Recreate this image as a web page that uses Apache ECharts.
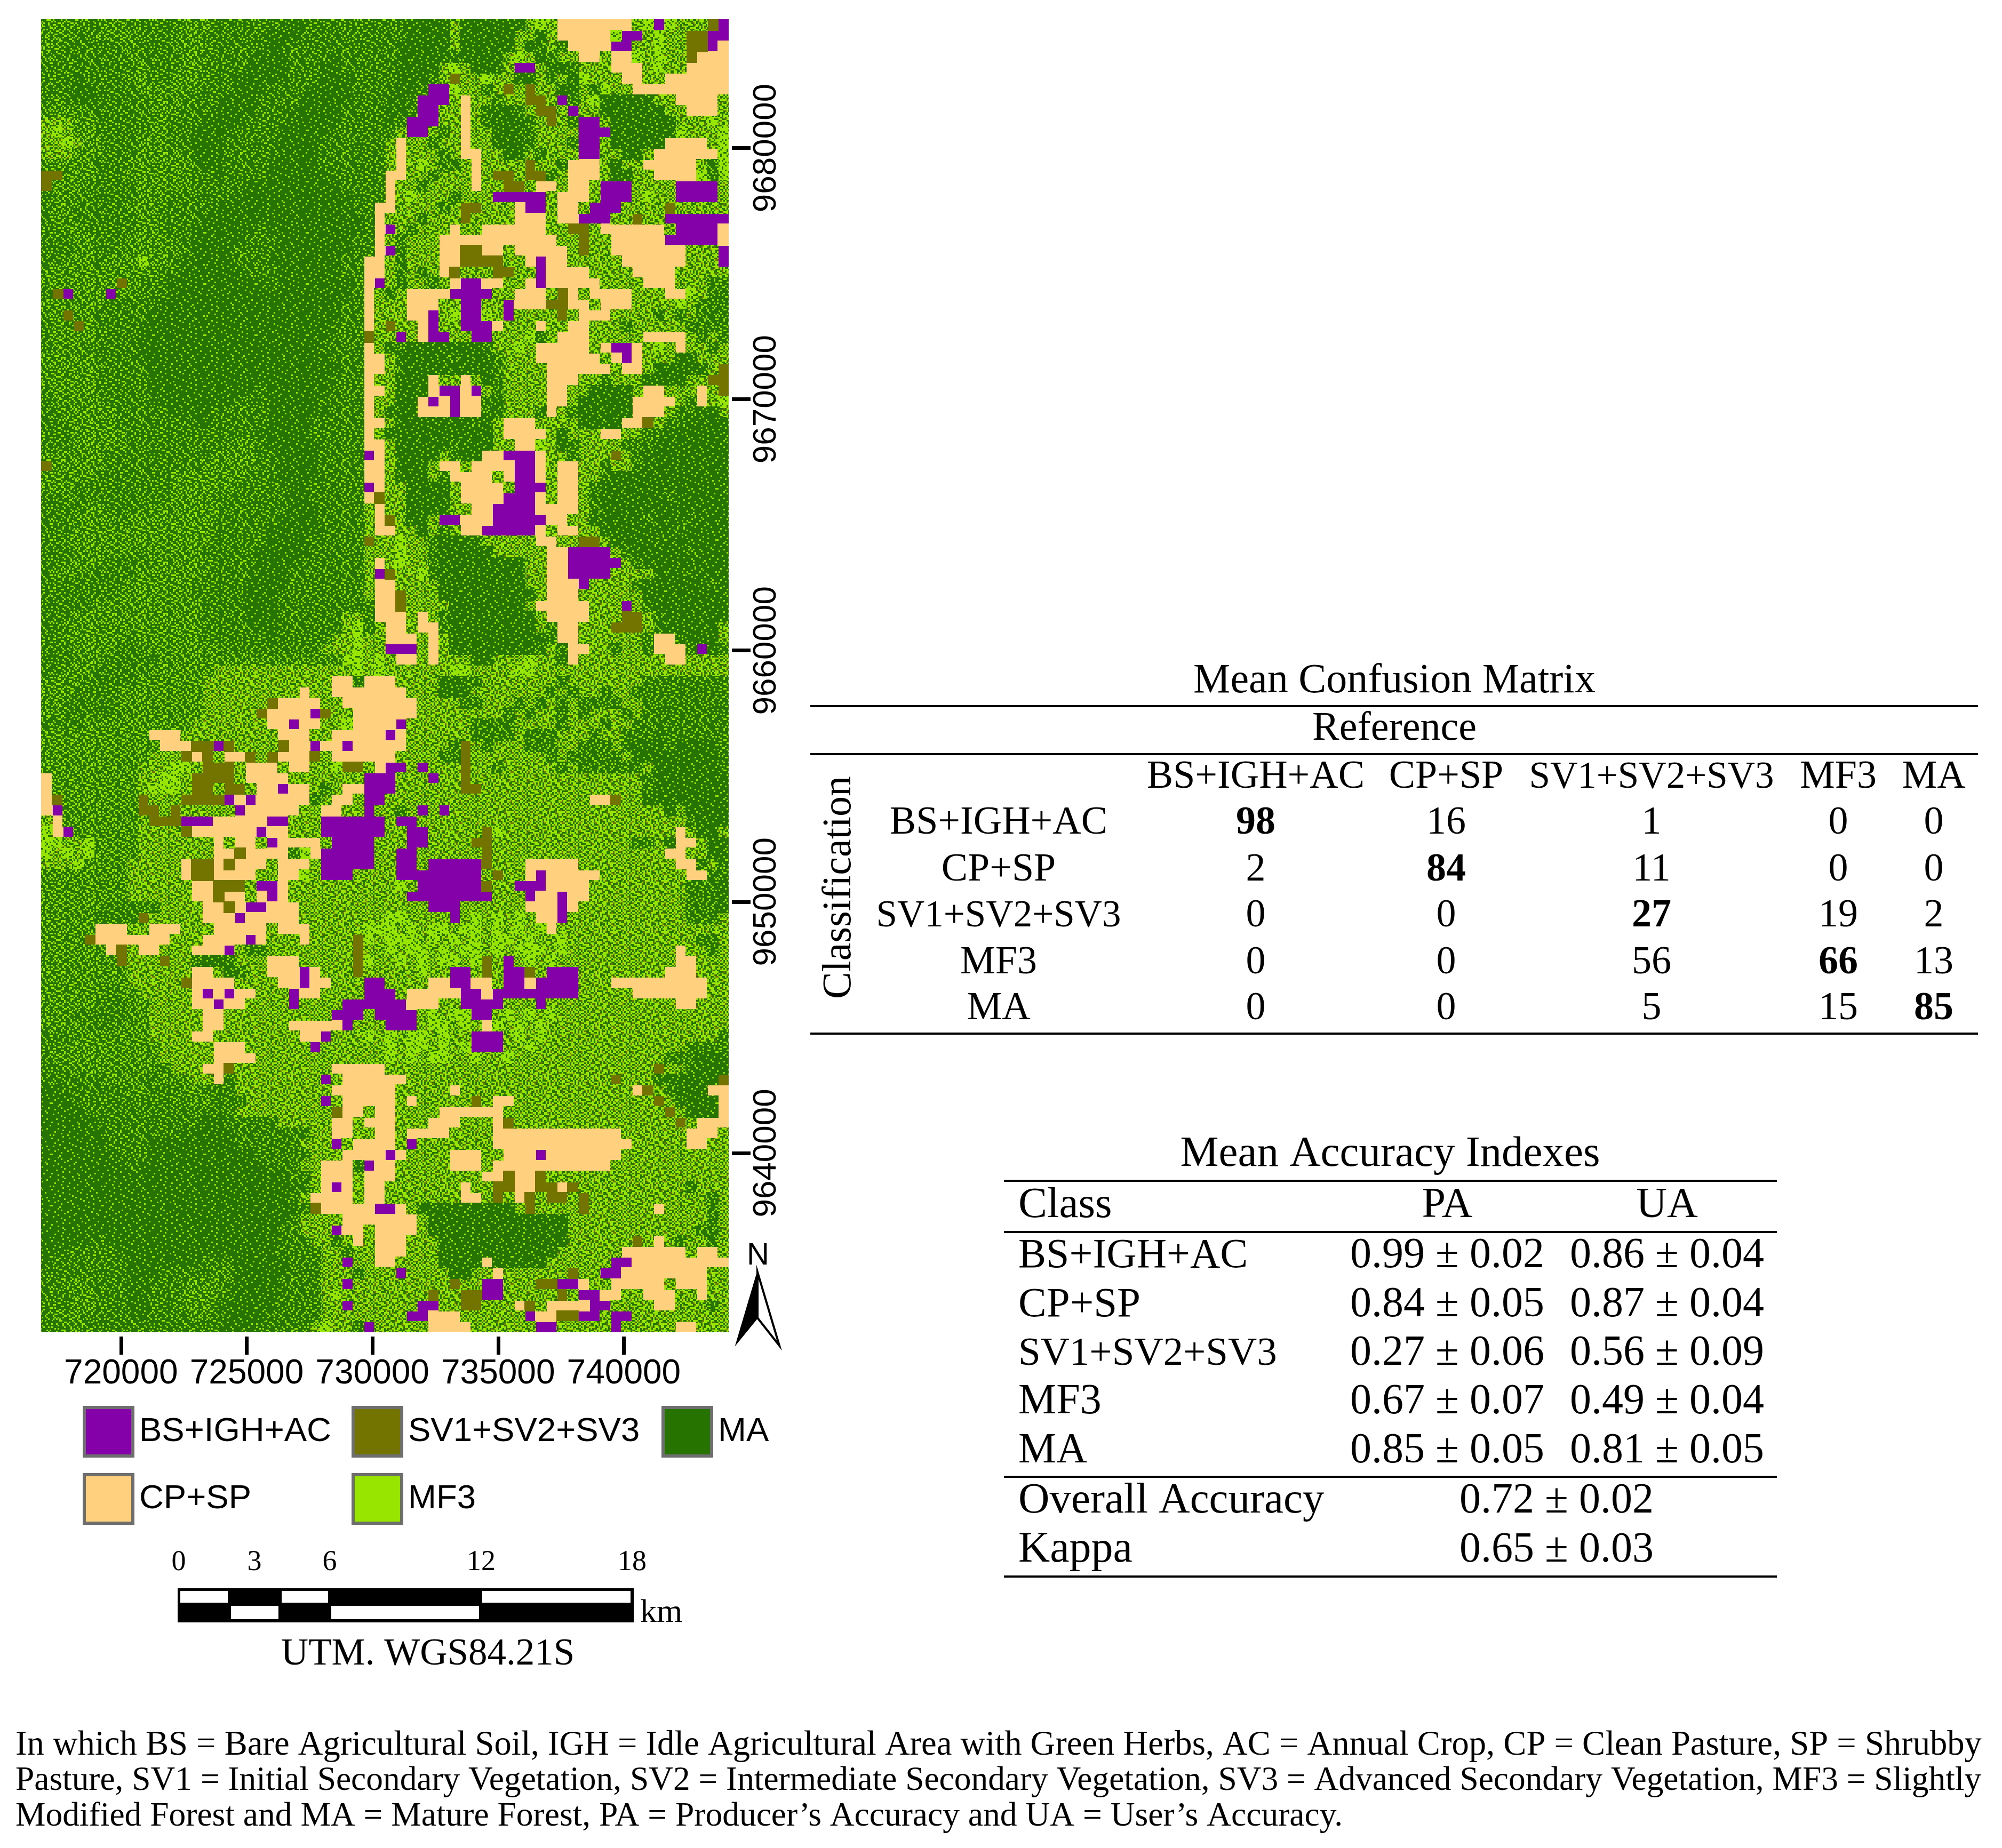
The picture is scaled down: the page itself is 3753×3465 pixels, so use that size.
<!DOCTYPE html>
<html>
<head>
<meta charset="utf-8">
<title>Land cover classification map and accuracy tables</title>
<style>
  html, body { margin: 0; background: #fff; }
  #chart { width: 3753px; height: 3465px; }
</style>
<script src="https://cdn.jsdelivr.net/npm/echarts@6/dist/echarts.min.js"></script>
</head>
<body>
<div id="chart"></div>
<script>
// Classes of the map legend
const classNames = ["BS+IGH+AC", "CP+SP", "SV1+SV2+SV3", "MF3", "MA"];
const classColors = ["#8400a8", "#ffd17f", "#737300", "#98e600", "#267300"];
// Letter used in the raster rows -> index of the class
// d/./m are forest with few/some/more MF3 pixels, , and l are MF3 with more/most of them
const cellClass = { b: 0, c: 1, s: 2, ",": 3, l: 3, d: 4, ".": 4, m: 4 };

const xTickValues = [720000, 725000, 730000, 735000, 740000];
const yTickValues = [9640000, 9650000, 9660000, 9670000, 9680000];

// Map on a coarse grid, top row first.
// West part: columns 0-29, east part: columns 30-63.
const rasterWest = [
  "mmmm..mm.....mmm.......dd.....",
  "mmm..mmmm....mm......ddd......",
  "mm.....mm...mmmm.....dd.......",
  "m.......m....mm.....ddd....d..",
  "..m......m...mm....dddd...dd..",
  "...d....mm..mmm...ddddd...ddd.",
  "...dd....mmmmm....ddd....dddd.",
  ".m.dd.....mmm....ddd....ddddd.",
  "mmmm......mmm...dddd...ddddd..",
  ",,,mm.....mm...dddd....ddddd..",
  // 10
  ",l,mm.....mm..dddd....ddddd...",
  ",,l,mm...mmm..ddd.....dddd....",
  ",,,mmm...mmmm.ddd.....dddd....",
  "mmmmm...mmmmmm.dd....ddddd....",
  "ssmmm...mmmmmm..d....dddddd...",
  "smmm.....mmmmm.....ddddddddd..",
  ".mmm.....mmm......ddddddddddd.",
  ".mm.....mmm.....ddddddddddddd.",
  ".mm......mm....ddddddddddddddd",
  "..mm.....mm...dddddd.ddddddddd",
  // 20
  "...mm...mmmm..ddddd...ddddddd.",
  "...mm..mmmmmm.dddd....ddddddd.",
  "..mmm.mmmlmm.ddddd...ddddddd..",
  "mmmmmmmmmmm..dddddd...dddddd..",
  "mmmmmmmsm...ddddddddd.ddddddd.",
  ".sbmmmbmm...ddddddddddddddddd.",
  "mmmmmm.....ddddddddddddddddd..",
  "mmsmm.....dddddddddddddddddd..",
  ".mmsm....dddddddddddddddddd...",
  ".mmmm....dddddddddddddddddd...",
  // 30
  ".mmm.....ddddddddddddddddd....",
  "mmmmm....dddddddddddddddddd...",
  "mmmmmm....dddddddddddddddddd..",
  "mmmmm.....ddddddddddddddddd...",
  ".mmmm.....dddddddddd.dddddd...",
  ".mmmmm.....ddddddd...ddddd....",
  "..mmmmm.....dddd.....dddddd...",
  "..mmmmm.......dd.....dddd.....",
  "...mmmmm............ddddd.....",
  "...mmmmm..........mm.ddddd....",
  // 40
  "mmmmmm..........mmmm..dddd....",
  "smmmmm.........mmmmm..dddd....",
  "mmmmm.......mmmmmmm...dddd....",
  "mmm.........mmmmmm.....dd.....",
  "..m.........mmmm.......dd.....",
  "....mm....mmmmmmm......ddd....",
  "...mmmm.mmmmmmmm......dddd....",
  "...mmmmmmmmmmmmm.....ddddd....",
  "..mmmmmmmmmmmmmm.....dddd.....",
  "...mmmmmm.mmmmm.....ddddd.....",
  // 50
  "..mmmm....mmmmmm....dddd......",
  ".mmm.....mmmmmm.....ddd.......",
  "........mmmmmm.....dddd.......",
  ".......mmmmmmm.....ddd........",
  ".....mmmmmmmmmm....ddd........",
  "...mmmmmmmmmmmm....ddd......,,",
  "..mmmmmmmmmmmmm.....dd......,l",
  "..mmmmmm.mmmmmm......d.....,,l",
  "...mmmm...mmmmmmm.........,,,l",
  "...mmm.....mmmmmmmmmmmmmmmmmll",
  // 60
  "..mmm.....mmmmmm,,,,,,,,,,,,,l",
  "mmmm.....mmmmmm,,,,,,,,,,,,cc.",
  "mmm....mmmmmmmm,,,,,,,,,c,,ccc",
  "mm.....mmmmmmmm,,,,,,scccc,,cc",
  "mm.....mmmmmmmm,,,,,sccccbs,,c",
  "....mmmmmmmmmm,,,,,,,ccbcc,,lc",
  "mmmmmmmmmmccc,,,,,,,,,ccc,,ccc",
  "mmmmmmmmmmmcccssbs,,,,sccbccbc",
  "mmmmmmmmmm,,,scs,ccs,scccs,ccc",
  "mmmmmmmmm,,,ll,sss,ccc,cc,,lss",
  // 70
  "cmmmmmmmm,,ll,ssss,cccc,,,,,,,",
  "cmmmmmmmm,lll,ss,ss,ccbcc,.,cc",
  "csmmmmmmms,,,ssssbcbccccc.,cc,",
  "cbmmmmmmmss,s,,,,,bccccc,,cc,,",
  ",cmmmmmmm,sssbbbcccccbb,,,bbbb",
  "lcbmmmmmm,,,,sccccccbcc,,,bbbb",
  "ll,,lmmmm,,,,,,,c,cc,bcccc,bbb",
  "l,l,lmmmm,,,,,,,ccscccc.lcbbbb",
  ",,,lmmmm,,,,,csscsccc,ccc,bbbb",
  "mmmmmmmm,,,,,csscccc,,ccl,bbb,",
  // 80
  "mmmmmmmm,,,,,,ccsss,bbc,,,,,,,",
  "mmmmmmmm,,,,,,ccscc,cbc,,,,,,,",
  "mmmmmm.....,,,,ccscbbccc,,,,,,",
  "mmmmm....s,,,,,cccbccccc,,,,,,",
  "mmmmmccc,,ccc,,,ccccc,ccc,,,,,",
  "mmmmsccccccc,,,ccccbc,,,c,,,,s",
  "mmmmmmcs,cc,,,cccb,..,,,,,,,,s",
  "mmmmmmms,,,s,,.dd.,,,ccc,,,,,s",
  "mmmmmmmm,,,,,,cc,d.,,cccbc,,,s",
  "mmmmmmmm,,,,,scccc,,,,ccbcc,,,",
  // 90
  "mmmmmm.mm,,,,,cbcbcc,,,bcc,,,,",
  "mmmmm...mm,,,,ccbcc,,,,b,,,,bb",
  "mmm.....mm,,,,,cc,,,,,,,,,,bbb",
  "mmmm...mmm,,,,,cc,,,,,,cccccb,",
  "...mmmmmmm,,,,cc,,,,,,,,ccb,,,",
  "..mmmmmmmmm,,,,,ccc,,,,,,b,,,,",
  ".mmmmmmmmmm,,,,,cccc,,,,,,,,,,",
  "..mmmmmmmmm.,,,ccs,,,,,,,,,ccc",
  "......mmm..mmm,,c.,,,,,,,,b,cc",
  "dd......mm...mm...,,,,,,,,,ccc",
  // 100
  "ddd.........m.mm...,,,,,,,b,cc",
  "dddd..............,,,,,,,,,scc",
  "ddddd..........dd.....,,,,,cc,",
  "dddddd.......ddddd.......,,cc,",
  "dddddd....dddddddd......,,,b,c",
  "ddddddd...dddddddddd.....,,,cc",
  "dddddddd.dddddddddddd...,,ccc",
  "ddddddddddddddddddddddd..,ccc,",
  "dddddddddddddddddddddddd.,cbc,",
  "ddddddddddddddddddddddd.,cccc,",
  // 110
  "dddddddddddddddddddddddd.scccc",
  "ddddddddddddddddddddddd.,,,,cc",
  "dddddddddddddddddddddd..,,,bcc",
  "ddddd.dddddddddddddddd...,,.,c",
  "dd.....ddddddddddddddd....,,.,,",
  "d.......ddddddd...ddddd...,,b,",
  "........ddd.....mmddddd...,,,.",
  "..mm....dd....mmm.dddd....,,b,",
  "...mm...dd...mmmm.dddd....,l,,",
  "...mm...dd...mmm.ddddd....,,b,",
  // 120
  ".mmm.....d....mm.dddd.....,,,,",
  "..mm.............ddd.....,l,,"
];
const rasterEast = [
  "....dddd,dddddd,l,ccccccc,lbl,,,sb",
  "....dddd,ddddd,,d,ccccclbb,l,,ssbb",
  "...ddddd,ddddd,d.,.ccccbb,,l,,ssbc",
  "...ddddd.dddd,l,d.,,cc,ccl,l,,sccc",
  "...dddd,l,ddd,bb,dd.,,,ccc,l,,cccc",
  "...ddd.,s,,l,,dd,.,dl,,,cc,,cccccc",
  "...dd.bbl,,.,s,s,,dd,.l,,ccccccccc",
  "..dd.bbb,c,,.,,ss,b.,lddddd,,cccc,",
  "..dd.bb,,c,.dd.,ss,b,,dddddd,,ccc,",
  "..d.bbb,,c,.ddd.,s,.bb,dddddd,,,l,",
  // 10
  "...,bb,.,c,,ddd.,,,,bbbddddddl,,,l",
  "..,c,,.,,c,,ddd.,,,.bb,dddddcccc,l",
  "..,c,,,.,cc,,dd,.,,,bb,,dd,ccccccl",
  "..,c,l,..,c,,,,s,,.ccc,d,,ccccc,.l",
  "..cc,,.,,,c,ss,ss.,ccc,dd,,ccccl.l",
  "..c,,.,,,,c,,ss,cc,cc,bbb,,,,bbbb,",
  "..c,l,,,.,,,bbbbb,ccc,bbb,l,,bbbb,",
  ".cc,,,,.,ss,,,cbb,cc,bbb,,,,s,,,,,",
  ".c,,,.,,,s,,,,ccc,ccbbb,,s,,bbbbbb",
  ".cb,.,,,c,,cccccc,,ss,cccccc,bbbbc",
  // 20
  ".c,.,,,ccccccccccc,,s,,cccccbbbbbc",
  ".cb.,,,ccsscc,ccccc,s,,ccccccc,,,b",
  "cc,.,,,ccssss,,cbcc,,,,,cccccc,,,b",
  "cc,.,.,cs,,,ss,,bcccc,,,,cccc,,,,,",
  "cb,.,,.,cbbcc,,cbccccc,,,,ccc,,,..",
  "c,.,ccccbbbb,,ccc,sc,cccc,,,ccl,..",
  "c,,,ccc,,bb,,bcccsscc,ccc,,,,l,...",
  "c,,,ccb,lbbl,b,,,,s,ccc,,,,.,.,...",
  "c,s,,cb,,bbbc,,,c,,cc,,,.,,,,,....",
  "s,,b,cbb,,bb,,,l.,ccc,,,,,cccc,.,.",
  // 30
  "c,d.ddddddd.,,l,ccccc,cbbc,l,c,,.,",
  "cc,ddddd.ddd.,,,cccccc,cbc,,,dd,,,",
  "cc,.dddddddd.,,,,cccccc,cc,ddddd,s",
  "c,,dddc,,c,d.,,,,ccc,,.,,,dddd,,ss",
  "cc,dddcbbcb,.,,,,cc,,dddd,cc,,,c,s",
  "c,,ddcbcbcc.d,,,,cc,dddddcccc,.c,l",
  "c,dddcccbcc.d,,,.c,.dddddccc,..dd,",
  "cc,ddddddd.d,ccc,,,,ddddccs,..dddd",
  "c,dddddddddd,cccc,d,,,cc,,..dddddd",
  "cc,ddddd.ddd,,ccl,d.,,,,...ddddddd",
  // 40
  "bc,dddd,.ddccbbbc,,.,,,s,.dddddddd",
  "cc,ddd,cc,ccccbbc,cc,,.,,.dddddddd",
  "cc,ddd,.cccc,cbbc,cc,,.ddddddddddd",
  "bc,,dddd,cccc,bbb,cc,.dddddddddddd",
  "cs,,dddd,ccccbbbc,cc,.dddddd.ddddd",
  ",c,,dddd,,ccbbbbcccc,.dddddddddddd",
  ",cs,dd,bbcccbbbbbcc,,ddddd.ddd.ddd",
  ",cc,,d,.,ccbbbbbc,cc,,ddddddd.dddd",
  "s,,l,,.ddd.,,,,,cc,,ss,dddd.dddddd",
  ",,,l,,.ddddd,,,,,ccbbbb,.ddddd.ddd",
  // 50
  ",c,l,,.dddddddd,,ccbbbbb,.dddddddd",
  ",bs,,l.dddddddd,,ccbbbb,,,,ddd.ddd",
  ",cc,,,,dddddddd,,cccb,,,,.dddddd.d",
  ",ccs,,,ddddddddd,ccc,,,,,,dddddddd",
  ".ccs,,,,ddddddd,ccccc,,,b,.dddddddd",
  ".ccc,c,.dddddddd,cccc,,,ss,.dddddd",
  ".,cc,cc.dddddddd,.cc,,,sss,.ddddd,",
  ",,ccc,c,ddddddddd.cc,,,,,,.cc.ddd,",
  ",,bbb,c,dddddddd.,.cc,,.,,.ccc.bd.",
  ",l,cc,c,,,dd,,,l,,.c,,,,,,,,cc,,,,",
  // 60
  ",l,,,,,,ll,,,,ll,,,,,,,,,,,,,,,,,,",
  "ccc,,,,dd..,,,,,,,.,,,,,,,........",
  "cccc,,,ddd,,,,,,,.,.,,.,,.........",
  "ccccc,,,,..,,,.,.,.,....,,........",
  "ccccc,,,,,,,,.,.,,.,.,,,.,........",
  "cccb,,,,,,....,,,,.,,,.,,.........",
  "ccbc,,,,,,....,...,,,.,,...d......",
  "cccc,,,,.s,.,,,...,,...,.ddd.dddd.",
  "ccc,,,,..s,,,,,,,.,.....,dddddddd.",
  ",cbb,b,,,s,,.,,,,,.,......,dddddd.",
  // 70
  "bbb,,,b,,s,,,,,,,,,,,,,,,,.ddddddd",
  "bbb,,,,,,ss,,,,,,,,,,,,,,,.ddddddd",
  "bb,,,,,,,,,,,,,,,,,,,ccs,,dddddddd",
  "b,,.,b,b,,,,,,,,,,,,,,,,,,,,d,dddd",
  "bb,bb,,,,,,,,,,,,,,,,,,,,,,,,,.ddd",
  "bb,,bb,,,,,sl,,,,,,,,,,,,,,,,c,dd,",
  "b,,,bb,,,,ss,,,,,,,,,,,,,..,dcc,dd",
  "b,,bb,,,,,,s,,,,,,,,,,,,,,,,cc,,dd",
  "b,,bb,bbbbbs,,,ccccc,,,,,,,,,cc.,.",
  ",,,bbbbbbbb,s,,cbccccc,,,,,,,,cc..d",
  // 80
  ",,,l,bbbbbbs,,bbbcccc,,,,,,,,,...d",
  ",,,,bbbbbbbb,,,bccbcc,,,,,,,,,...d",
  ",,,,,,bbb,,,,,,cccbc,,,,,,,,,,...d",
  ",,ll,,,,b,l,l,l,ccb,,,,,,,,,,,...,",
  "lll,l,ll,ll,l,l,lc,,,,,,,,,,,,,,,,",
  "l,lll,l,l,l,ll,l,,l,,,,,,,,,,,,..,",
  ",,l,ll,l,ll,l,lll,l,,,,,,,,,,c,,.,",
  "l,,l,l,ll,ls,b,l,l,,,,,,,,,,,cc,,,",
  ",,,,,l,,bb,s,bbs,bbb,,,,,,,,ccc,,,",
  "bb,,,,ccbbcc,bbcbbbb,,,ccccccccc,,",
  // 90
  "bbb,cccccbbcbbbbbbbb,,,,,ccccccc,,",
  "bbbbccc,,bbbb,,,b,,,,,,,,,,,,cc,,,",
  ",bbbb,l,llbb,l,l,l,,,,,,,,,,,,,,,,",
  ",,bbb,ll,l,cl,l,l,,,,,,,,,,,,,,,,,",
  "l,l,ll,l,,bbb,l,l,,,,,,,,,,,,,,,,.",
  ",,l,ll,l,lbbb,,l,,,,,,,,,,,,,,....",
  ",,l,l,ll,,l,,l,,,,,,,,,,,,,,...dddd",
  "cc,,,,,,,,,,,,,,,,,,,,,,,,,s,,.ddddd",
  "cccc,,,,,,,,,,,,,,,,,,,s,,,.ddddds",
  "ccc,,,,,c,,,,,,,,,,,,,,,,cs,.dddcc",
  // 100
  "ccc,c,,,,,s,cc,,,,,,,,,,,,,s,.dddcc",
  ",cc,,,,cccccc,,,,,,,,,,,,,,,s,dddcc",
  "ccc,,,ccc,,,cs,,,,,,,,,,,,,,,s,ccc,c",
  ",cc,cccc,,,,cccccccccccc,,,,,,ccc,c",
  "ccc,b,,,,,,,ccccccccccccc,,,,,cc,,,",
  "ccbc,,,,ccc,,cccbccccccc,,,,,,,,,,",
  "bcc,,,,,ccc,ccccccccccc,,,,,,,,,,,",
  "ccc,,,,,,,,ccsccs,,,,,,,,,,,,,,,,,",
  "cc,,,,,,,c,,ssccsscs,,,,,,,,,,.,,,",
  "cc,,,,,,,cc,s,cs,ss,s,,,,,,,,,,,.,",
  // 110
  "cbbc,ddddddddd,s,,,,s,,,,,,c,,,,.,",
  "ccccc,ddddddddddddd,,,,,,,,,,,,,.,",
  ",cccc,ddddddddddddd,,,,,,,,,,,,..,",
  ",ccc,,,dddddddddddd,,,,,,s,c,.,,.,",
  ",ccc,,,ddddddddddd,,,,,,cccccc,cc,",
  ",cc,,,,ddddcddddd,,,,,,bbcccccccccc",
  ",,,b,,,,dd,,c,,,,,,s,,bbcccccccc,",
  ",,,,,,,,s,,bb,,,ssbbc,,ccccc,ccc,,",
  ",,,,,,s,,ssbb,,,,,s,bbcc,,ccc,,c,,",
  ",,,,,bb,,ss,,,cs,ccccbb,,,,cc,,,.,",
  // 120
  ",,,,bbccc,,,,,,bccssbb,bb,,,,,,,,,",
  "b,,,,,cccc,,,,,,bb,,,,,b,,,,,cc,,,"
];
// Digits 0-9 of a hand-set tile: how readily a pixel of the tile turns to MF3
const speckleTile = [
  "73915628047315926048371590264813",
  "25840197362948051739204685173096",
  "91276350849136728405913627048539",
  "46038725196052493817650284917362",
  "18592406371849560273149058362714",
  "60317948250731986425807391462580",
  "34768150923465017892436150978243",
  "09251863479012786350962418037591",
  "57480236195873240961584702316948",
  "12693740586129453708216935840267",
  "84057921364058192637490126573189",
  "36921058473960827145368750291436",
  "70485316829374601852910463785021",
  "29168437051248975306742198036574",
  "65830192746501328947053862419708",
  "41097628350786142593186047253916",
  "93526701984320567814629375018462",
  "08174359268915730246807192654380",
  "52849036172647089531463028917235",
  "76310982645183426097251864039571",
  "14695207385902761348095731268409",
  "38027461950476183529614280375196",
  "91763548026135709264872193540628",
  "45280931746892054176309647182053",
  "60917253484027361895240518936714",
  "27348106593761948203576924081365",
  "83652947018245079316489031752698",
  "19405372861593624780135267894023",
  "52781640397048135962708453169247",
  "04936285174627890341561982407316",
  "78120493658316247059834701625984",
  "36579810246950318672491036587120"
];
// Confusion matrix
const confusionClasses = ["BS+IGH+AC", "CP+SP", "SV1+SV2+SV3", "MF3", "MA"];
const confusionRow0 = [98, 16, 1, 0, 0];
const confusionRow1 = [2, 84, 11, 0, 0];
const confusionRow2 = [0, 0, 27, 19, 2];
const confusionRow3 = [0, 0, 56, 66, 13];
const confusionRow4 = [0, 0, 5, 15, 85];
// Accuracy table
const paValues = ["0.99 ± 0.02", "0.84 ± 0.05", "0.27 ± 0.06", "0.67 ± 0.07", "0.85 ± 0.05"];
const uaValues = ["0.86 ± 0.04", "0.87 ± 0.04", "0.56 ± 0.09", "0.49 ± 0.04", "0.81 ± 0.05"];
const overallAccuracy = "0.72 ± 0.02";
const kappaValue = "0.65 ± 0.03";
const scaleLabels = ["0", "3", "6", "12", "18"];
const footnoteLines = [
  "In which BS = Bare Agricultural Soil, IGH = Idle Agricultural Area with Green Herbs, AC = Annual Crop, CP = Clean Pasture, SP = Shrubby",
  "Pasture, SV1 = Initial Secondary Vegetation, SV2 = Intermediate Secondary Vegetation, SV3 = Advanced Secondary Vegetation, MF3 = Slightly",
  "Modified Forest and MA = Mature Forest, PA = Producer’s Accuracy and UA = User’s Accuracy."
];

const SERIF = '"Liberation Serif"';
const SANS = '"Liberation Sans"';
const westEasting = 716820;
const eastEasting = 744172;
const topNorthing = 9685127;
const bottomNorthing = 9632866;
const columns = 64;
const rowCount = rasterWest.length;
const cellWidth = (eastEasting - westEasting) / columns;
const cellHeight = (topNorthing - bottomNorthing) / rowCount;

// Paints the speckle tile with a base colour, used by the forest textures
function makeTexture(pick) {
  const px = 3;
  const size = speckleTile.length;
  const canvas = document.createElement("canvas");
  canvas.width = size * px;
  canvas.height = size * px;
  const ctx = canvas.getContext("2d");
  speckleTile.forEach((row, y) => {
    for (let x = 0; x < size; x++) {
      ctx.fillStyle = pick(Number(row[x]));
      ctx.fillRect(x * px, y * px, px, px);
    }
  });
  return { image: canvas, repeat: "repeat" };
}

const [purple, tan, olive, light, dark] = classColors;
const cellFill = {
  b: purple,
  c: tan,
  s: olive,
  d: makeTexture((r) => (r === 0 ? light : dark)),
  ".": makeTexture((r) => (r < 2 ? light : dark)),
  m: makeTexture((r) => (r < 3 ? light : dark)),
  ",": makeTexture((r) => (r === 9 ? olive : r < 5 ? light : dark)),
  l: makeTexture((r) => (r < 8 ? light : dark))
};
const cellLetters = Object.keys(cellFill);

// One list of [easting, northing, letter index] per legend class
const classCells = classNames.map(() => []);
rasterWest.forEach((west, r) => {
  const row = west.padEnd(30, ".").slice(0, 30) + rasterEast[r].padEnd(34, ",").slice(0, 34);
  for (let c = 0; c < columns; c++) {
    classCells[cellClass[row[c]]].push([
      westEasting + c * cellWidth,
      topNorthing - r * cellHeight,
      cellLetters.indexOf(row[c])
    ]);
  }
});

function renderCell(params, api) {
  const corner = api.coord([api.value(0), api.value(1)]);
  const size = api.size([cellWidth, cellHeight]);
  return {
    type: "rect",
    shape: {
      x: Math.floor(corner[0]),
      y: Math.floor(corner[1]),
      width: Math.ceil(size[0]) + 1,
      height: Math.ceil(size[1]) + 1
    },
    style: { fill: cellFill[cellLetters[api.value(2)]] }
  };
}

// Text helper, y is the baseline
function text(str, x, y, size, opts) {
  const o = opts || {};
  return {
    type: "text",
    x: x,
    y: y - size * 0.25,
    rotation: o.rotation || 0,
    style: {
      text: str,
      font: (o.bold ? "bold " : "") + size + "px " + (o.family || SERIF),
      fill: "#000",
      textAlign: o.align || "center",
      textVerticalAlign: "middle"
    }
  };
}
function rule(x1, x2, y, h) {
  return { type: "rect", shape: { x: x1, y: y - h / 2, width: x2 - x1, height: h }, style: { fill: "#000" } };
}
function box(x1, x2, y1, y2, fill) {
  return { type: "rect", shape: { x: x1, y: y1, width: x2 - x1, height: y2 - y1 }, style: { fill: fill } };
}

const elements = [];
const TS = 74;

// Confusion matrix table
const colX = [2354, 2711, 3096, 3446, 3625];
const rowY = [1562, 1650, 1736, 1824, 1910];
const nameSize = [74, 74, 71, 74, 74];
const confusionRows = [confusionRow0, confusionRow1, confusionRow2, confusionRow3, confusionRow4];
elements.push(text("Mean Confusion Matrix", 2614, 1297, 78));
elements.push(rule(1519, 3708, 1324, 4), rule(1519, 3708, 1414, 4), rule(1519, 3708, 1938, 4));
elements.push(text("Reference", 2614, 1386, 76));
elements.push({
  type: "text", x: 1574, y: 1664, rotation: Math.PI / 2,
  style: { text: "Classification", font: "76px " + SERIF, fill: "#000", textAlign: "center", textVerticalAlign: "middle" }
});
confusionClasses.forEach((name, i) => {
  elements.push(text(name, colX[i], 1476, nameSize[i]));
  elements.push(text(name, 1872, rowY[i], nameSize[i]));
  confusionRows[i].forEach((v, j) => {
    elements.push(text(String(v), colX[j], rowY[i], TS, { bold: i === j }));
  });
});

// Accuracy table
const accY = [2375, 2467, 2558, 2649, 2741];
const accNameSize = [78, 79, 75, 80, 80];
elements.push(text("Mean Accuracy Indexes", 2606, 2185, 81));
elements.push(rule(1882, 3331, 2214, 4), rule(1882, 3331, 2310, 4), rule(1882, 3331, 2769, 4), rule(1882, 3331, 2956, 4));
elements.push(text("Class", 1909, 2281, 81, { align: "left" }));
elements.push(text("PA", 2713, 2281, 80), text("UA", 3125, 2281, 80));
confusionClasses.forEach((name, i) => {
  elements.push(text(name, 1909, accY[i], accNameSize[i], { align: "left" }));
  elements.push(text(paValues[i], 2713, accY[i], 80), text(uaValues[i], 3125, accY[i], 80));
});
elements.push(text("Overall Accuracy", 1909, 2835, 81, { align: "left" }), text(overallAccuracy, 2918, 2835, 80));
elements.push(text("Kappa", 1909, 2927, 82, { align: "left" }), text(kappaValue, 2918, 2927, 80));

// Footnote
const footnoteSize = [64.6, 63.4, 63.5];
footnoteLines.forEach((line, i) => {
  elements.push(text(line, 29, [3289, 3355, 3422][i], footnoteSize[i], { align: "left" }));
});

// Scale bar
elements.push(box(333, 1188, 2978, 3042, "#000"));
[[338, 427, 2983, 3005], [528, 615, 2983, 3005], [904, 1182, 2983, 3005], [433, 522, 3011, 3036], [621, 898, 3011, 3036]].forEach((b) => {
  elements.push(box(b[0], b[1], b[2], b[3], "#fff"));
});
[335, 477, 618, 902, 1185].forEach((x, i) => {
  elements.push(text(scaleLabels[i], x, 2943, 54));
});
elements.push(text("km", 1200, 3040, 62, { align: "left" }));
elements.push(text("UTM. WGS84.21S", 802, 3120, 71));

// North arrow
elements.push(text("N", 1421, 2369, 58, { family: SANS }));
elements.push({ type: "polygon", shape: { points: [[1420, 2385], [1461, 2523], [1420, 2471]] }, style: { fill: "#fff", stroke: "#000", lineWidth: 4 } });
elements.push({ type: "polygon", shape: { points: [[1420, 2385], [1380, 2520], [1420, 2471]] }, style: { fill: "#000", stroke: "#000", lineWidth: 2 } });

function legendFor(names, left) {
  return {
    data: names,
    orient: "vertical",
    left: left,
    top: 2631,
    icon: "rect",
    itemWidth: 91,
    itemHeight: 91,
    itemGap: 29,
    selectedMode: false,
    itemStyle: { borderColor: "#6e6e6e", borderWidth: 6 },
    textStyle: { fontFamily: SANS, fontSize: 63.5, color: "#000", padding: [0, 0, 0, 7] }
  };
}

const options = {
  animation: false,
  backgroundColor: "#fff",
  grid: { left: 77, top: 36, width: 1289, height: 2462 },
  xAxis: {
    type: "value",
    min: westEasting,
    max: eastEasting,
    offset: 8,
    axisLine: { show: false },
    splitLine: { show: false },
    axisTick: { show: true, customValues: xTickValues, length: 34, lineStyle: { color: "#000", width: 7 } },
    axisLabel: { customValues: xTickValues, margin: 38, fontFamily: SANS, fontSize: 64, color: "#000", formatter: (v) => String(v) }
  },
  yAxis: {
    type: "value",
    position: "right",
    min: bottomNorthing,
    max: topNorthing,
    offset: 6,
    axisLine: { show: false },
    splitLine: { show: false },
    axisTick: { show: true, customValues: yTickValues, length: 35, lineStyle: { color: "#000", width: 7 } },
    axisLabel: { customValues: yTickValues, margin: 34, rotate: 90, fontFamily: SANS, fontSize: 62, color: "#000", formatter: (v) => String(v) }
  },
  legend: [
    legendFor(["BS+IGH+AC", "CP+SP"], 150),
    legendFor(["SV1+SV2+SV3", "MF3"], 654),
    legendFor(["MA"], 1235)
  ],
  graphic: { elements: elements },
  series: classNames.map((name, i) => ({
    type: "custom",
    name: name,
    renderItem: renderCell,
    clip: true,
    progressive: 0,
    silent: true,
    itemStyle: { color: classColors[i] },
    encode: { x: 0, y: 1 },
    data: classCells[i]
  }))
};

const chart = echarts.init(document.querySelector("#chart"));
chart.setOption(options);
</script>
</body>
</html>
